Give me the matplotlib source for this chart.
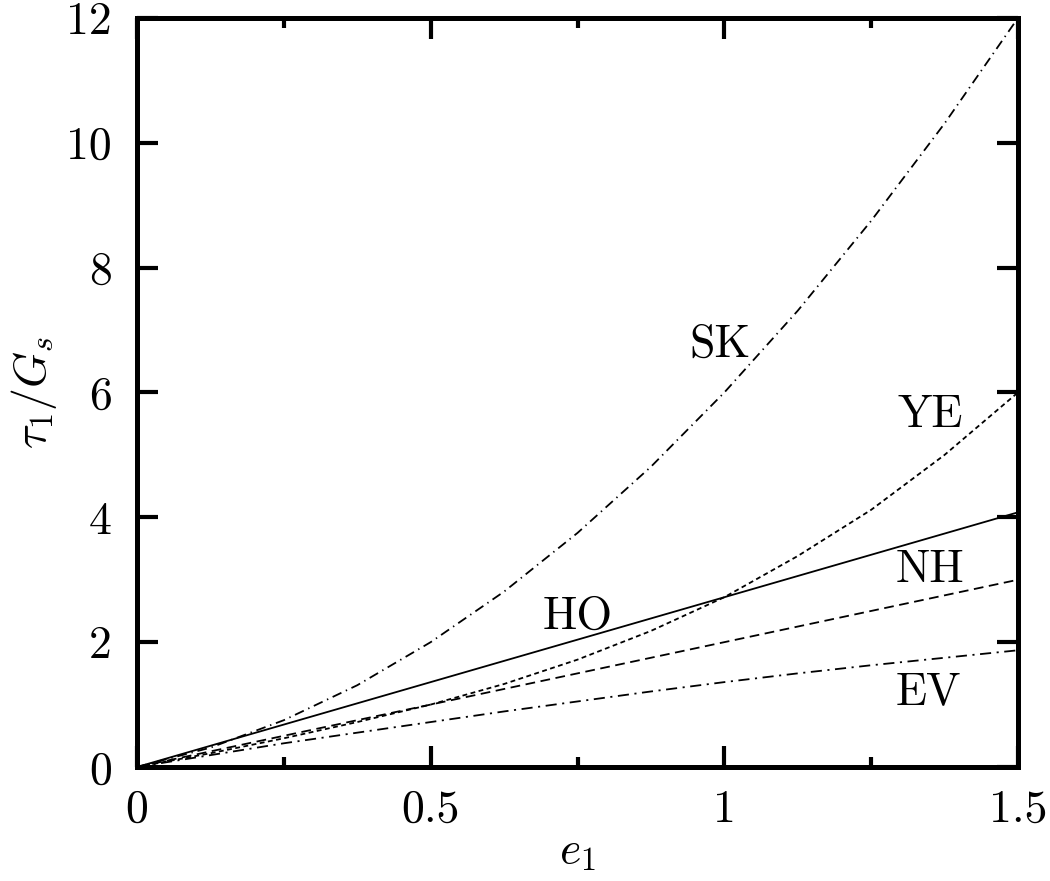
import matplotlib
matplotlib.use("Agg")
import matplotlib.pyplot as plt
import numpy as np

# strain values read at steps of 0.125
e1 = [0, 0.125, 0.25, 0.375, 0.5, 0.625, 0.75, 0.875, 1.0, 1.125, 1.25, 1.375, 1.5]

sk = [0, 0.31, 0.75, 1.31, 2.0, 2.81, 3.75, 4.81, 6.0, 7.31, 8.75, 10.31, 12.0]
ye = [0, 0.22, 0.46, 0.72, 1.00, 1.33, 1.72, 2.18, 2.72, 3.38, 4.12, 5.00, 6.0]
ho = [0, 0.34, 0.68, 1.02, 1.36, 1.70, 2.04, 2.38, 2.72, 3.06, 3.40, 3.74, 4.08]
nh = [0, 0.25, 0.50, 0.75, 1.00, 1.25, 1.50, 1.75, 2.00, 2.25, 2.50, 2.75, 3.00]
ev = [0, 0.19, 0.38, 0.55, 0.72, 0.89, 1.05, 1.21, 1.36, 1.50, 1.63, 1.75, 1.87]

xticks = [0, 0.5, 1, 1.5]
xticklabels = ["0", "0.5", "1", "1.5"]
yticks = [0, 2, 4, 6, 8, 10, 12]
yticklabels = ["0", "2", "4", "6", "8", "10", "12"]

plt.rcParams["font.family"] = "cmr10"
plt.rcParams["mathtext.fontset"] = "cm"
plt.rcParams["axes.formatter.use_mathtext"] = True
plt.rcParams["lines.scale_dashes"] = False

fig = plt.figure(figsize=(10.5, 8.81), dpi=100)
ax = fig.add_axes([0.1305, 0.1294, 0.839, 0.8502])

lw = 1.3
ax.plot(e1, sk, color="black", lw=lw, linestyle=(0, (7, 3.5, 1, 3.5)))
ax.plot(e1, ye, color="black", lw=lw, linestyle=(0, (3.5, 2.5)))
ax.plot(e1, ho, color="black", lw=lw, linestyle="-")
ax.plot(e1, nh, color="black", lw=lw, linestyle=(0, (7, 4)))
ax.plot(e1, ev, color="black", lw=lw, linestyle=(0, (8, 4, 1.5, 4)))

fs = 33
ax.text(0.993, 6.76, "SK", fontsize=fs, ha="center", va="center")
ax.text(1.35, 5.64, "YE", fontsize=fs, ha="center", va="center")
ax.text(1.351, 3.16, "NH", fontsize=fs, ha="center", va="center")
ax.text(0.75, 2.40, "HO", fontsize=fs, ha="center", va="center")
ax.text(1.347, 1.20, "EV", fontsize=fs, ha="center", va="center")

ax.set_xlim(0, 1.5)
ax.set_ylim(0, 12)
ax.set_xticks(xticks)
ax.set_xticklabels(xticklabels)
ax.set_xticks([0.25, 0.75, 1.25], minor=True)
ax.set_yticks(yticks)
ax.set_yticklabels(yticklabels)

ax.tick_params(which="both", direction="in", top=True, right=True, width=3, labelsize=fs)
ax.tick_params(which="major", length=15)
ax.tick_params(which="minor", length=7.5)
ax.tick_params(axis="x", pad=16)
ax.tick_params(axis="y", pad=18)
for sp in ax.spines.values():
    sp.set_linewidth(3.6)

ax.set_xlabel(r"$e_1$", fontsize=fs, labelpad=0)
ax.set_ylabel(r"$\tau_1/G_s$", fontsize=fs, labelpad=5)

fig.savefig("out.png", dpi=100)
